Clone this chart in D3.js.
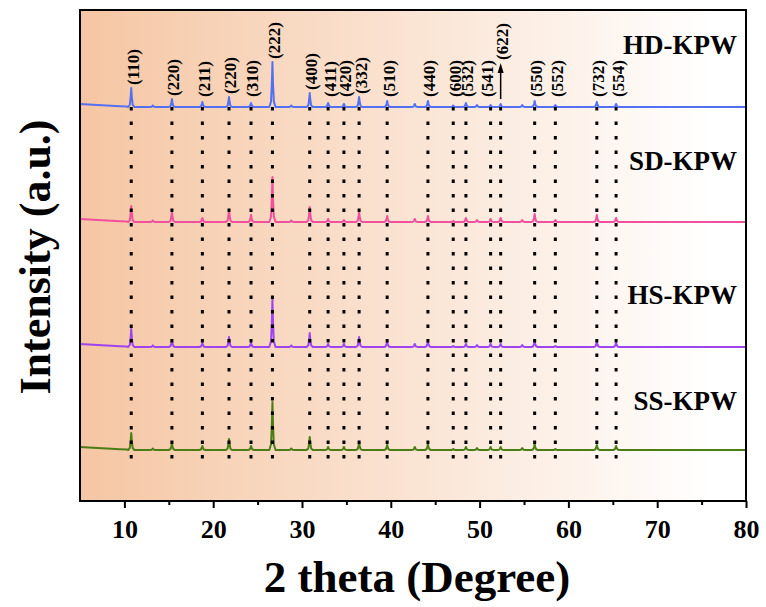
<!DOCTYPE html>
<html>
<head>
<meta charset="utf-8">
<script src="https://cdn.jsdelivr.net/npm/d3@7"></script>
<style>
body { margin: 0; background: #fff; }
text { font-family: "Liberation Serif", "Times New Roman", serif; font-weight: bold; }
</style>
</head>
<body>
<div id="chart"></div>
<script>

// indexed reflections (2 theta, degrees) and their labels
var peakPos = [10.77, 15.35, 18.78, 21.78, 24.26, 26.67, 30.87, 32.94, 34.72, 36.43,
               39.59, 44.18, 47.03, 48.46, 51.24, 52.37, 56.2, 58.53, 63.2, 65.37];
var peakHkl = ["(110)", "(220)", "(211)", "(220)", "(310)", "(222)", "(400)", "(411)", "(420)", "(332)",
               "(510)", "(440)", "(600)", "(532)", "(541)", "(622)", "(550)", "(552)", "(732)", "(554)"];

// peak heights per sample (a.u.), same order as peakPos
var hdHeights = [19, 8, 5, 10, 4, 45, 14, 4, 3, 10, 6, 6, 1.5, 4, 2, 3, 6, 2, 5, 3];
var sdHeights = [16, 10, 4, 12, 7, 45, 15, 3, 2, 10, 6, 6, 1, 4, 3, 4, 8, 2, 7, 4];
var hsHeights = [18, 7, 4, 10, 4, 48, 14, 3, 3, 10, 6, 6, 1, 3, 3, 3, 6, 1, 5, 4];
var ssHeights = [17, 7, 4, 11, 4, 48, 13, 3, 3, 8, 5, 6, 1, 3, 3, 3, 6, 1, 5, 4];

// small unlabelled reflections
var minorPos = [13.2, 28.8, 42.7, 49.7, 54.8];
var minorHeights = [1.5, 1.5, 3, 2, 2];

// low angle background
var bgPoints = [[5, 3], [6.5, 2.2], [8, 1.4], [9.5, 0.8], [10.3, 0.4]];

var seriesNames = ["HD-KPW", "SD-KPW", "HS-KPW", "SS-KPW"];
var seriesOffset = [394, 279, 154, 51];
var seriesHeights = [hdHeights, sdHeights, hsHeights, ssHeights];

var xTicks = [10, 20, 30, 40, 50, 60, 70, 80];
var xMinor = [15, 25, 35, 45, 55, 65, 75];

// styling
var colors = ["#5470f2", "#f0509e", "#9d44ef", "#4b7d17"];
var nameLift = [53, 52, 43, 40];
var profile = [[-0.35, 0], [-0.16, 0.12], [-0.07, 0.5], [0, 1], [0.07, 0.5], [0.16, 0.12], [0.35, 0]];

var margin = {top: 10, right: 20, bottom: 106, left: 80},
    svg_dx = 766,
    svg_dy = 607,
    plot_dx = svg_dx - margin.left - margin.right,
    plot_dy = svg_dy - margin.top - margin.bottom;

var x = d3.scaleLinear().domain([5, 80]).range([margin.left, margin.left + plot_dx]),
    y = d3.scaleLinear().domain([0, 491]).range([margin.top + plot_dy, margin.top]);

var svg = d3.select("#chart")
            .append("svg")
            .attr("width", svg_dx)
            .attr("height", svg_dy);

var grad = svg.append("defs").append("linearGradient")
    .attr("id", "bg")
    .attr("x1", "0").attr("x2", "1").attr("y1", "0").attr("y2", "0");
grad.append("stop").attr("offset", "0").attr("stop-color", "#f5c6a3");
grad.append("stop").attr("offset", "0.95").attr("stop-color", "#ffffff");

svg.append("rect")
   .attr("x", margin.left).attr("y", margin.top)
   .attr("width", plot_dx).attr("height", plot_dy)
   .style("fill", "url(#bg)");

function patternPoints(heights) {
    var pk = peakPos.map((p, i) => [p, heights[i]])
                    .concat(minorPos.map((p, i) => [p, minorHeights[i]]));
    pk.sort((a, b) => a[0] - b[0]);
    var pts = bgPoints.slice();
    pk.forEach(function (d) {
        profile.forEach(f => pts.push([d[0] + f[0], d[1] * f[1]]));
    });
    pts.push([80, 0]);
    return pts;
}

// patterns
seriesNames.forEach(function (name, s) {
    var off = seriesOffset[s];
    var line = d3.line()
        .x(d => x(d[0]))
        .y(d => y(d[1] + off));

    svg.append("path")
       .datum(patternPoints(seriesHeights[s]))
       .attr("d", line)
       .style("fill", "none")
       .style("stroke", colors[s])
       .style("stroke-width", 2)
       .style("stroke-linejoin", "round");

    svg.append("text")
       .attr("x", x(79))
       .attr("y", y(off) - nameLift[s])
       .attr("text-anchor", "end")
       .style("font-size", "27px")
       .text(name);
});

// dotted reference lines
svg.append("g")
   .selectAll("line")
   .data(peakPos)
   .enter()
   .append("line")
   .attr("x1", d => x(d))
   .attr("x2", d => x(d))
   .attr("y1", y(seriesOffset[0]))
   .attr("y2", y(36))
   .style("stroke", "#000")
   .style("stroke-width", 3)
   .style("stroke-dasharray", "3.5,11");

// hkl labels
var base = y(seriesOffset[0]);
peakHkl.forEach(function (h, i) {
    var px = x(peakPos[i]);
    var yb = Math.min(y(seriesOffset[0] + hdHeights[i]) - 3, base - 10);
    var shift = h == "(541)" ? -4 : 1.5;
    if (h == "(622)") {
        yb = base - 47;
        svg.append("line")
           .attr("x1", px).attr("x2", px)
           .attr("y1", base - 8).attr("y2", yb + 10)
           .style("stroke", "#000").style("stroke-width", 1.5);
        svg.append("path")
           .attr("d", "M" + px + "," + (yb + 3) + "L" + (px - 3) + "," + (yb + 13) + "L" + (px + 3) + "," + (yb + 13) + "Z")
           .style("fill", "#000");
    }
    svg.append("text")
       .attr("transform", "translate(" + (px + shift) + "," + yb + ") rotate(-90)")
       .attr("dy", "0.35em")
       .style("font-size", "17px")
       .text(h);
});

// axes
var axis_x = svg.append("g")
   .attr("transform", "translate(0," + (margin.top + plot_dy) + ")")
   .call(d3.axisBottom(x).tickValues(xTicks).tickSize(7).tickPadding(12));
axis_x.select(".domain").remove();
axis_x.selectAll("line").style("stroke-width", 2);
axis_x.selectAll("text").style("font-size", "26px")
      .style("font-family", "'Liberation Serif', 'Times New Roman', serif");

var axis_m = svg.append("g")
   .attr("transform", "translate(0," + (margin.top + plot_dy) + ")")
   .call(d3.axisBottom(x).tickValues(xMinor).tickSize(4).tickFormat(""));
axis_m.select(".domain").remove();
axis_m.selectAll("line").style("stroke-width", 2);

svg.append("rect")
   .attr("x", margin.left).attr("y", margin.top)
   .attr("width", plot_dx).attr("height", plot_dy)
   .style("fill", "none")
   .style("stroke", "#000")
   .style("stroke-width", 2);

// titles
svg.append("text")
   .attr("x", 417)
   .attr("y", 592)
   .attr("text-anchor", "middle")
   .style("font-size", "45px")
   .text("2 theta (Degree)");

svg.append("text")
   .attr("transform", "translate(50,257) rotate(-90)")
   .attr("text-anchor", "middle")
   .style("font-size", "44px")
   .text("Intensity (a.u.)");

</script>
</body>
</html>
